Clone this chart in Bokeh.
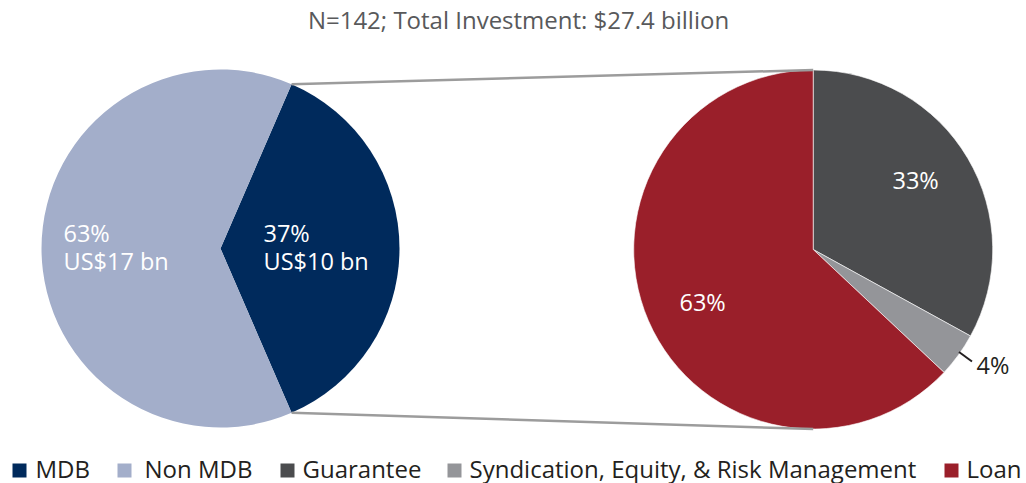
import math
from bokeh.plotting import figure
from bokeh.models import Range1d
from bokeh.embed import file_html
from bokeh.resources import INLINE
from bokeh.core.properties import value

# ---- data ----
title_text = "N=142; Total Investment: $27.4 billion"
left_categories = ["MDB", "Non MDB"]
left_values = [37, 63]
left_amounts = ["US$10 bn", "US$17 bn"]
right_categories = ["Guarantee", "Syndication, Equity, & Risk Management", "Loan"]
right_values = [33, 4, 63]

colors = {
    "MDB": "#002A5C",
    "Non MDB": "#A3AECA",
    "Guarantee": "#4B4C4E",
    "Syndication, Equity, & Risk Management": "#949599",
    "Loan": "#9A1F2A",
}

W, H = 1026, 483
FONT = "Open Sans"
TXT_SHIFT = 9.5  # compensate baseline rendering offset

def fy(ref_y):
    return H - ref_y

def ty(ref_y):
    return H - (ref_y - TXT_SHIFT)

def fx(ref_x):
    return ref_x

p = figure(width=W, height=H, output_backend="svg", toolbar_location=None,
           x_range=Range1d(0, W), y_range=Range1d(0, H), min_border=0)
p.axis.visible = False
p.grid.visible = False
p.outline_line_color = None
p.background_fill_color = "white"

# ---- left pie: MDB centred on the right side ----
lcx, lcy, lr = fx(220), fy(248), 179
tot_l = sum(left_values)
mdb_span = left_values[0] / tot_l * 2 * math.pi
l_start = [-mdb_span / 2, mdb_span / 2]
l_end = [mdb_span / 2, 2 * math.pi - mdb_span / 2]
p.wedge(x=[lcx] * 2, y=[lcy] * 2, radius=lr, start_angle=l_start, end_angle=l_end,
        fill_color=[colors[c] for c in left_categories], line_color=None)

# ---- right pie: starts at 12 o'clock, clockwise ----
rcx, rcy, rr = fx(812.7), fy(249), 179.5
tot_r = sum(right_values)
r_start, r_end = [], []
ang = math.pi / 2
for v in right_values:
    span = v / tot_r * 2 * math.pi
    r_end.append(ang)
    r_start.append(ang - span)
    ang -= span
p.wedge(x=[rcx] * 3, y=[rcy] * 3, radius=rr, start_angle=r_start, end_angle=r_end,
        fill_color=[colors[c] for c in right_categories], line_color="white", line_width=0.6)

# ---- connector lines ----
top_l = (lcx + lr * math.cos(mdb_span / 2), lcy + lr * math.sin(mdb_span / 2))
bot_l = (lcx + lr * math.cos(-mdb_span / 2), lcy + lr * math.sin(-mdb_span / 2))
top_r = (rcx, rcy + rr)
bot_r = (rcx, rcy - rr)
p.segment(x0=[top_l[0], bot_l[0]], y0=[top_l[1], bot_l[1]],
          x1=[top_r[0], bot_r[0]], y1=[top_r[1], bot_r[1]],
          line_color="#9C9C9C", line_width=2.5)

# ---- labels ----
fs = "23.5px"
p.text(x=[fx(263), fx(63)], y=[ty(241.5), ty(241.5)],
       text=[f"{v}%" for v in left_values], text_color="white",
       text_font=value(FONT), text_font_size=fs, text_baseline="alphabetic")
p.text(x=[fx(263), fx(63)], y=[ty(270), ty(270)],
       text=left_amounts, text_color="white",
       text_font=value(FONT), text_font_size=fs, text_baseline="alphabetic")

p.text(x=[fx(892), fx(679)], y=[ty(189), ty(311)],
       text=[f"{right_values[0]}%", f"{right_values[2]}%"], text_color="white",
       text_font=value(FONT), text_font_size=fs, text_baseline="alphabetic")
p.text(x=[fx(976)], y=[ty(373.5)], text=[f"{right_values[1]}%"], text_color="#231F20",
       text_font=value(FONT), text_font_size=fs, text_baseline="alphabetic")
p.segment(x0=[fx(958.5)], y0=[fy(351.5)], x1=[fx(971.5)], y1=[fy(361)],
          line_color="#231F20", line_width=2)

# ---- title ----
p.text(x=[fx(518)], y=[ty(28.5)], text=[title_text], text_color="#58595B",
       text_font=value(FONT), text_font_size="24px", text_align="center",
       text_baseline="alphabetic")

# ---- legend (manual) ----
legend_items = left_categories + right_categories
sq_x = [12, 117, 280, 447, 944]
tx_x = [35, 144, 302, 469, 966]
leg_base = 477
p.rect(x=[fx(s + 7) for s in sq_x], y=[fy(leg_base - 7)] * 5, width=14, height=14,
       fill_color=[colors[c] for c in legend_items], line_color=None)
p.text(x=[fx(t) for t in tx_x], y=[ty(leg_base)] * 5, text=legend_items,
       text_color="#231F20", text_font=value(FONT), text_font_size="24px",
       text_baseline="alphabetic")

open("out.html", "w").write(file_html(p, INLINE))
